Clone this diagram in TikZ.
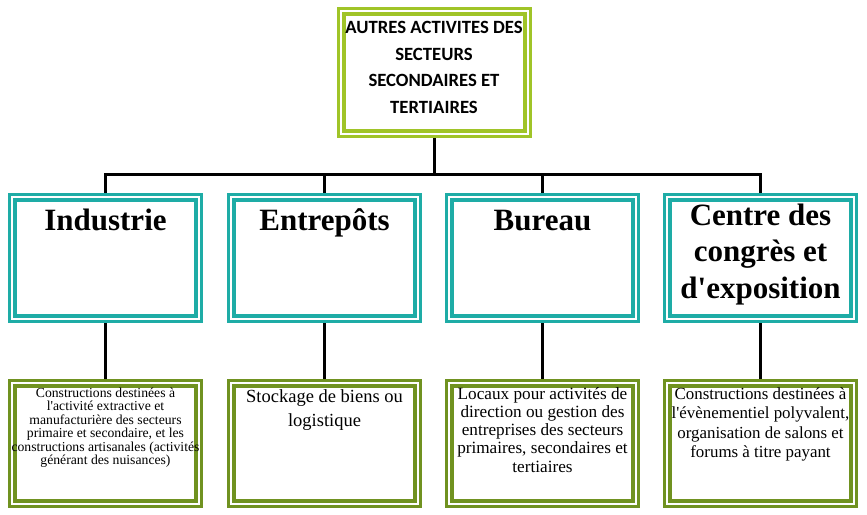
\documentclass[tikz,border=0pt]{standalone}
\usepackage{fontspec}
\setmainfont{Liberation Serif}
\newfontfamily\carl{Carlito}
\usetikzlibrary{backgrounds}
\definecolor{lime}{RGB}{160,196,40}
\definecolor{teal2}{RGB}{30,172,166}
\definecolor{olive2}{RGB}{112,146,32}
\tikzset{
  box/.style={draw=#1, line width=3.3pt, double=white, double distance=2pt, fill=white,
    inner sep=0pt, minimum width=186.4pt, minimum height=121.4pt, rectangle},
  topbox/.style={box=lime, minimum width=186.4pt, minimum height=122.4pt},
  midbox/.style={box=teal2},
  botbox/.style={box=olive2, minimum height=120.4pt},
  link/.style={line width=3pt, black},
  toptext/.style={font=\carl\bfseries\fontsize{18.7}{26.5}\selectfont, align=center, inner sep=0pt, anchor=base},
  midtext/.style={font=\bfseries\fontsize{31}{36.5}\selectfont, align=center, inner sep=0pt, anchor=base},
  bottext/.style={align=center, inner sep=0pt, anchor=base}
}
\begin{document}
\begin{tikzpicture}[x=1pt,y=-1pt]
\useasboundingbox (0,0) rectangle (867,514);
\node[topbox] (top) at (434.5,72.5) {};
\node[midbox] (ind) at (105.5,258) {};
\node[midbox] (ent) at (324.5,258) {};
\node[midbox] (bur) at (542.5,258) {};
\node[midbox] (cen) at (760.5,258) {};
\node[botbox] (bind) at (105.5,443.5) {};
\node[botbox] (bent) at (324.5,443.5) {};
\node[botbox] (bbur) at (542.5,443.5) {};
\node[botbox] (bcen) at (760.5,443.5) {};
\coordinate (bar) at (434.5,174);
\begin{scope}[on background layer]
\draw[link] (top.south) -- (bar);
\draw[link] (ind.north) -- (ind.north |- bar) -- (cen.north |- bar) -- (cen.north);
\draw[link] (ent.north) -- (ent.north |- bar);
\draw[link] (bur.north) -- (bur.north |- bar);
\draw[link] (ind.south) -- (bind.north);
\draw[link] (ent.south) -- (bent.north);
\draw[link] (bur.south) -- (bbur.north);
\draw[link] (cen.south) -- (bcen.north);
\end{scope}
\node[toptext] (ttop) at (434,113) {AUTRES ACTIVITES DES\\SECTEURS\\SECONDAIRES ET\\TERTIAIRES};
\node[midtext] (tind) at (105.5,230.5) {Industrie};
\node[midtext] (tent) at (324.5,230.5) {Entrepôts};
\node[midtext] (tbur) at (542.5,230.5) {Bureau};
\node[midtext] (tcen) at (760.5,298) {Centre des\\congrès et\\d\textquotesingle exposition};
\node[bottext, font=\fontsize{13.7}{13.5}\selectfont] (tbind) at (105.5,464.5) {Constructions destinées à\\l\textquotesingle activité extractive et\\manufacturière des secteurs\\primaire et secondaire, et les\\constructions artisanales (activités\\générant des nuisances)};
\node[bottext, font=\fontsize{18.5}{23.3}\selectfont] (tbent) at (324.5,426) {Stockage de biens ou\\logistique};
\node[bottext, font=\fontsize{17.2}{18.3}\selectfont] (tbbur) at (542.5,472.2) {Locaux pour activités de\\direction ou gestion des\\entreprises des secteurs\\primaires, secondaires et\\tertiaires};
\node[bottext, font=\fontsize{16.9}{19.4}\selectfont] (tbcen) at (760.5,457.5) {Constructions destinées à\\l\textquotesingle évènementiel polyvalent,\\organisation de salons et\\forums à titre payant};
\end{tikzpicture}
\end{document}
